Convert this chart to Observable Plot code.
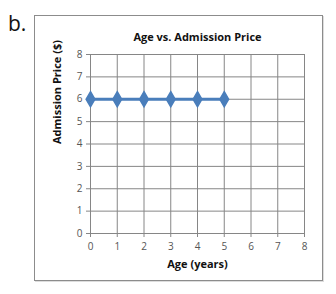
<!DOCTYPE html>
<html><head><meta charset="utf-8">
<script src="https://cdn.jsdelivr.net/npm/d3@7"></script>
<script src="https://cdn.jsdelivr.net/npm/@observablehq/plot@0.6"></script>
<style>
body{margin:0;background:#fff;width:336px;height:294px;overflow:hidden;position:relative;font-family:Calibri,Carlito,"Open Sans",sans-serif}
#lbl{position:absolute;left:8px;top:9px;font-size:21px;color:#111;font-family:"Open Sans",sans-serif}
#box{position:absolute;left:34px;top:15px;width:287px;height:264px;border:1px solid #8c8c8c;box-shadow:1px 1px 0 #ddd}
#chart{position:absolute;left:0;top:0}
</style></head><body>
<div id="lbl">b.</div>
<div id="box"></div>
<div id="chart"></div>
<script>
const ages = [0,1,2,3,4,5];
const prices = [6,6,6,6,6,6];
const xTicks = [0,1,2,3,4,5,6,7,8];
const yTicks = [0,1,2,3,4,5,6,7,8];
const title = "Age vs. Admission Price";
const xLabel = "Age (years)";
const yLabel = "Admission Price ($)";
const data = ages.map((a,i)=>({age:a, price:prices[i]}));
const blue = "#4a7ebb";
const chart = Plot.plot({
  width:336, height:294,
  marginLeft:90, marginRight:32, marginTop:54, marginBottom:61,
  style:{fontFamily:"'Open Sans',sans-serif", fontSize:"10px", background:"transparent"},
  x:{domain:[0,8], ticks:xTicks, label:null},
  y:{domain:[0,8], ticks:yTicks, label:null},
  marks:[
    Plot.gridX(xTicks,{stroke:"#868686", strokeOpacity:1, strokeWidth:1}),
    Plot.gridY(yTicks,{stroke:"#868686", strokeOpacity:1, strokeWidth:1}),
    Plot.axisX({ticks:xTicks, tickSize:4, tickPadding:5, stroke:"#868686", fill:"#555", fontSize:10}),
    Plot.axisY({ticks:yTicks, tickSize:4, tickPadding:4, stroke:"#868686", fill:"#555", fontSize:10}),
    Plot.ruleX([0],{stroke:"#868686"}),
    Plot.ruleY([0],{stroke:"#868686"}),
    Plot.line(data,{x:"age", y:"price", stroke:blue, strokeWidth:3}),
    Plot.dot(data,{x:"age", y:"price", symbol:"diamond", r:4.6, fill:blue, stroke:blue}),
    Plot.text([title],{frameAnchor:"top", dy:-21, fontWeight:"bold", fontSize:11, fill:"#111", fontFamily:"'Open Sans',sans-serif"}),
    Plot.text([xLabel],{frameAnchor:"bottom", dy:34, fontWeight:"bold", fontSize:11, fill:"#111", fontFamily:"'Open Sans',sans-serif"}),
    Plot.text([yLabel],{frameAnchor:"left", dx:-33, rotate:-90, fontWeight:"bold", fontSize:11, fill:"#111", fontFamily:"'Open Sans',sans-serif"})
  ]
});
document.getElementById("chart").appendChild(chart);
</script>
</body></html>
